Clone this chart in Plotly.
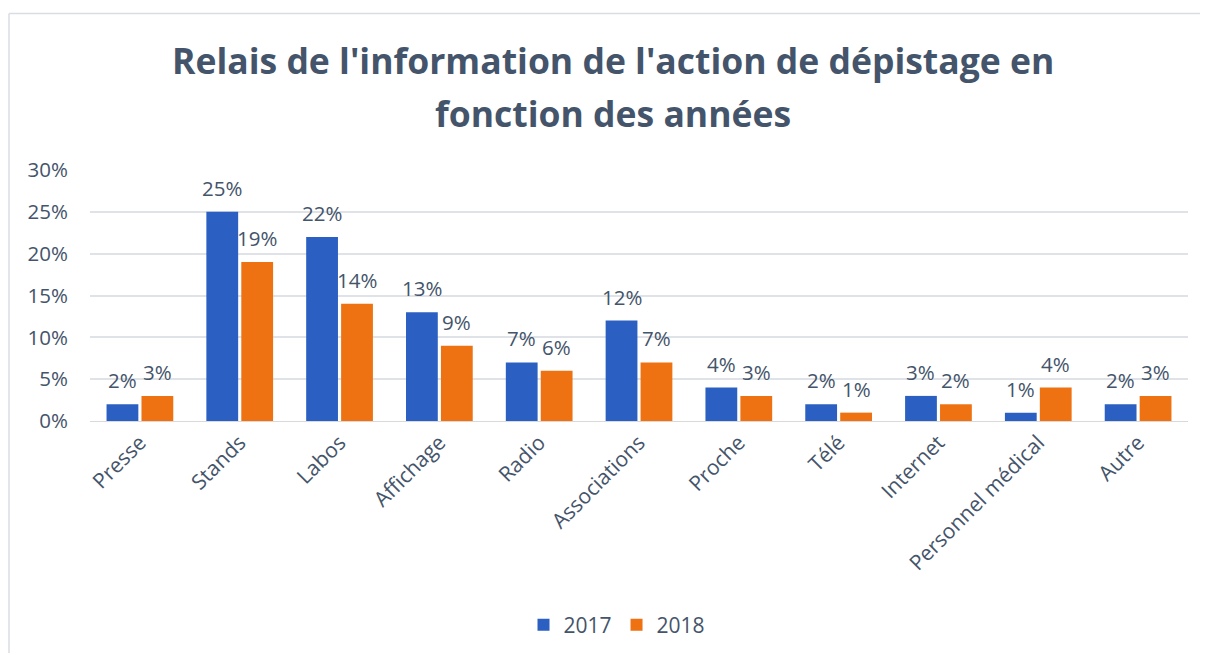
import plotly.graph_objects as go

categories = ["Presse", "Stands", "Labos", "Affichage", "Radio", "Associations",
              "Proche", "Télé", "Internet", "Personnel médical", "Autre"]
values_2017 = [2, 25, 22, 13, 7, 12, 4, 2, 3, 1, 2]
values_2018 = [3, 19, 14, 9, 6, 7, 3, 1, 2, 4, 3]
series_names = ["2017", "2018"]
title_lines = ["Relais de l'information de l'action de dépistage en", "fonction des années"]

W, H = 1200, 647
ml, mr, mt, mb = 82, 20, 162, 233
txt = "#44546a"
font = "'Open Sans', Lato, sans-serif"
colors = ["#2b60c2", "#ee7211"]
series = [values_2017, values_2018]

fig = go.Figure()
for name, vals, col in zip(series_names, series, colors):
    fig.add_trace(go.Bar(
        x=categories, y=[v / 100 for v in vals], name=name,
        marker=dict(color=col, line=dict(width=0)),
        hovertemplate="%{x}: %{y:.0%}<extra>" + name + "</extra>",
    ))

pw = W - ml - mr
ph = H - mt - mb

def py(fy):
    return (H - mb - fy) / ph

def px(fx):
    return (fx - ml) / pw

bargap = 0.3
slot = (1 - bargap) / 2
annotations = []
for k, vals in enumerate(series):
    off = (k - 0.5) * slot
    for i, v in enumerate(vals):
        annotations.append(dict(x=i + off, y=v / 100, xref="x", yref="y",
                                text=f"{v}%", showarrow=False, yanchor="bottom",
                                yshift=8, font=dict(size=20.5, color=txt, family=font)))

# title lines (two annotations to match line spacing)
for line, fy in zip(title_lines, [52, 105]):
    annotations.append(dict(x=px(605), y=py(fy), xref="paper", yref="paper",
                            text=line, showarrow=False, xanchor="center", yanchor="middle",
                            font=dict(size=35.5, color=txt, family=font, weight="bold")))

border = dict(color="#d9dde3", width=1.5)
fig.add_shape(type="line", xref="paper", yref="paper",
              x0=px(1), x1=px(W), y0=py(5), y1=py(5), line=border, layer="below")
fig.add_shape(type="line", xref="paper", yref="paper",
              x0=px(1), x1=px(1), y0=py(5), y1=py(H), line=border, layer="below")

fig.update_layout(
    width=W, height=H,
    margin=dict(l=ml, r=mr, t=mt, b=mb),
    paper_bgcolor="white", plot_bgcolor="white",
    barmode="group", bargap=bargap, bargroupgap=0.09,
    annotations=annotations,
    font=dict(family=font, color=txt, size=20),
    xaxis=dict(tickangle=-45, tickfont=dict(size=21, color=txt), showgrid=False,
               showline=True, linecolor="#d9d9d9", linewidth=1, ticks=""),
    yaxis=dict(range=[0, 0.30], dtick=0.05, tickformat=".0%", tickfont=dict(size=20.5, color=txt),
               showgrid=True, gridcolor="#dfe3e8", gridwidth=1.5, zeroline=False, ticks="",
               ticklabelstandoff=21),
    legend=dict(orientation="h", x=px(609), xanchor="center", y=py(617), yanchor="middle",
                font=dict(size=21, color=txt), traceorder="normal"),
    showlegend=True,
)

fig.write_html("out.html")
